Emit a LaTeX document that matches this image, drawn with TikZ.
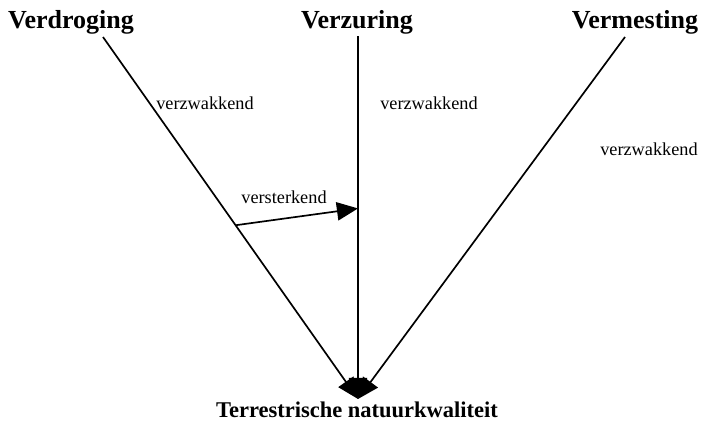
\documentclass[tikz,border=0pt]{standalone}
\usepackage{fontspec}
\setmainfont{Liberation Serif}
\usetikzlibrary{arrows.meta}
\usetikzlibrary{calc}

\tikzset{
  factor/.style={font=\bfseries\fontsize{18.5}{20}\selectfont, inner sep=0pt, anchor=base},
  effect/.style={font=\fontsize{13}{15}\selectfont, inner sep=0pt, anchor=base},
  pijl/.style={line width=1.2pt, -{Triangle[length=15pt,width=13pt]}}
}

\begin{document}
\begin{tikzpicture}[x=0.025cm,y=-0.025cm]
\useasboundingbox (0,0) rectangle (704,421);

% de drie factoren en het doel
\node[factor] (verdroging) at (71,28) {Verdroging};
\node[factor] (verzuring) at (357,28) {Verzuring};
\node[factor] (vermesting) at (635,28) {Vermesting};
\node[factor, font=\bfseries\fontsize{16}{18}\selectfont] (kwaliteit) at (357,417) {Terrestrische natuurkwaliteit};

\coordinate (vdr) at (103,37);
\coordinate (vzr) at (358,36);
\coordinate (vms) at (625,37);
\coordinate (punt) at (358,399);

\draw [pijl] (vdr) -- (punt);
\draw [pijl] (vzr) -- (punt);
\draw [pijl] (vms) -- (punt);

% verdroging versterkt de verzuring
\coordinate (van) at ($(vdr)!0.52!(punt)$);
\coordinate (naar) at ($(vzr)!0.475!(punt)$);
\draw [pijl] (van) -- (naar);

\node[effect] (zwak1) at (205,109) {verzwakkend};
\node[effect] (zwak2) at (429,109) {verzwakkend};
\node[effect] (zwak3) at (649,155) {verzwakkend};
\node[effect] (sterk) at (284,203) {versterkend};

\end{tikzpicture}
\end{document}
